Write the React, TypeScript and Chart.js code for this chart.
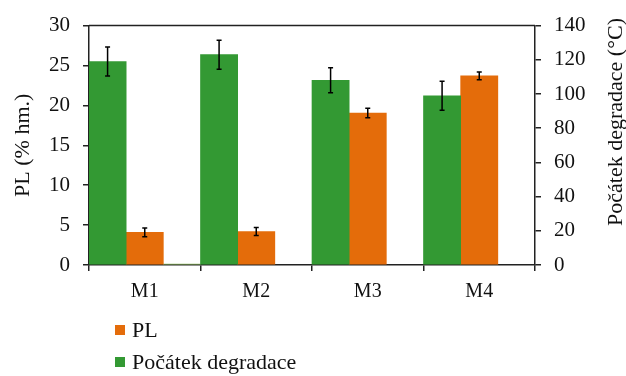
import React, { useEffect, useRef } from "react";
import { Chart, registerables } from "chart.js";

Chart.register(...registerables);

const categories = ["M1", "M2", "M3", "M4"];
const degradace = [119, 123, 108, 99]; // °C, right axis
const degradaceErr = [8.5, 8.5, 7.3, 8.5];
const pl = [4.1, 4.2, 19.05, 23.7]; // % hm., left axis
const plErr = [0.55, 0.5, 0.6, 0.5];
const filler = [0.12, null, null, null];

const GREEN = "#339933";
const ORANGE = "#E46C0A";
const FONT = "'Liberation Serif', 'Times New Roman', serif";

const errorBarPlugin = {
  id: "errorBars",
  afterDatasetsDraw(chart: any) {
    const ctx = chart.ctx;
    chart.data.datasets.forEach((ds: any, di: number) => {
      if (!ds.errors) return;
      const meta = chart.getDatasetMeta(di);
      const scale = chart.scales[ds.yAxisID];
      meta.data.forEach((bar: any, i: number) => {
        const v = ds.data[i];
        const e = ds.errors[i];
        if (v == null || e == null) return;
        const x = bar.x;
        const yHi = scale.getPixelForValue(v + e);
        const yLo = scale.getPixelForValue(v - e);
        ctx.save();
        ctx.strokeStyle = "#000";
        ctx.lineWidth = 1.5;
        ctx.beginPath();
        ctx.moveTo(x, yHi);
        ctx.lineTo(x, yLo);
        ctx.moveTo(x - 2.5, yHi);
        ctx.lineTo(x + 2.5, yHi);
        ctx.moveTo(x - 2.5, yLo);
        ctx.lineTo(x + 2.5, yLo);
        ctx.stroke();
        ctx.restore();
      });
    });
  },
};

const framePlugin = {
  id: "frame",
  afterDraw(chart: any) {
    const { ctx, chartArea } = chart;
    ctx.save();
    ctx.strokeStyle = "#222";
    ctx.lineWidth = 1.5;
    ctx.beginPath();
    ctx.moveTo(chartArea.left, chartArea.top);
    ctx.lineTo(chartArea.right, chartArea.top);
    ctx.stroke();
    // right axis title, reading bottom-to-top
    ctx.translate(616, 122);
    ctx.rotate(-Math.PI / 2);
    ctx.fillStyle = "#111";
    ctx.font = `22px ${FONT}`;
    ctx.textAlign = "center";
    ctx.textBaseline = "middle";
    ctx.fillText("Počátek degradace (°C)", 0, 0);
    ctx.restore();
  },
};

export default function App() {
  const ref = useRef<HTMLCanvasElement>(null);

  useEffect(() => {
    if (!ref.current) return;
    const chart = new Chart(ref.current, {
      type: "bar",
      data: {
        labels: categories,
        datasets: [
          {
            label: "Počátek degradace",
            data: degradace,
            errors: degradaceErr,
            yAxisID: "y1",
            backgroundColor: GREEN,
            categoryPercentage: 1,
            barPercentage: 1,
          } as any,
          {
            label: "PL",
            data: pl,
            errors: plErr,
            yAxisID: "y",
            backgroundColor: ORANGE,
            categoryPercentage: 1,
            barPercentage: 1,
          } as any,
          {
            label: "",
            data: filler,
            yAxisID: "y",
            backgroundColor: "#8fbf5f",
            categoryPercentage: 1,
            barPercentage: 1,
          } as any,
        ],
      },
      options: {
        responsive: false,
        animation: false,
        devicePixelRatio: 1,
        layout: { padding: { top: 20, left: 0, right: 0, bottom: 0 } },
        plugins: {
          legend: { display: false },
          tooltip: { enabled: false },
        },
        scales: {
          x: {
            afterFit: (s: any) => {
              s.height = 111;
            },
            grid: {
              offset: true,
              drawOnChartArea: false,
              drawTicks: true,
              tickLength: 6,
              color: "#222",
              lineWidth: 1.5,
            },
            border: { display: true, color: "#222", width: 1.5 },
            ticks: {
              color: "#111",
              font: { family: FONT, size: 20 },
              padding: 9,
            },
          },
          y: {
            position: "left",
            min: 0,
            max: 30,
            afterFit: (s: any) => {
              s.width = 89;
            },
            ticks: {
              stepSize: 5,
              color: "#111",
              font: { family: FONT, size: 21 },
              padding: 13,
            },
            grid: {
              drawOnChartArea: false,
              drawTicks: true,
              tickLength: 6,
              color: "#222",
              lineWidth: 1.5,
            },
            border: { display: true, color: "#222", width: 1.5 },
            title: {
              display: true,
              text: "PL (% hm.)",
              color: "#111",
              font: { family: FONT, size: 22 },
              padding: { top: 10, bottom: 0 },
            },
          },
          y1: {
            position: "right",
            min: 0,
            max: 140,
            afterFit: (s: any) => {
              s.width = 91;
            },
            ticks: {
              stepSize: 20,
              color: "#111",
              font: { family: FONT, size: 21 },
              padding: 13,
            },
            grid: {
              drawOnChartArea: false,
              drawTicks: true,
              tickLength: 6,
              color: "#222",
              lineWidth: 1.5,
            },
            border: { display: true, color: "#222", width: 1.5 },
          },
        },
      },
      plugins: [errorBarPlugin, framePlugin],
    });
    return () => chart.destroy();
  }, []);

  const legendItem = (color: string, text: string, top: number) => (
    <div
      style={{
        position: "absolute",
        left: 115,
        top,
        display: "flex",
        alignItems: "center",
        fontFamily: FONT,
        fontSize: 22,
        color: "#111",
        lineHeight: "24px",
        whiteSpace: "nowrap",
      }}
    >
      <span
        style={{
          display: "inline-block",
          width: 10,
          height: 10,
          background: color,
          marginRight: 7,
        }}
      />
      <span>{text}</span>
    </div>
  );

  return (
    <div
      style={{
        position: "fixed",
        left: 0,
        top: 0,
        width: 626,
        height: 376,
        background: "#fff",
      }}
    >
      <canvas ref={ref} width={626} height={376} style={{ display: "block" }} />
      {legendItem(ORANGE, "PL", 318)}
      {legendItem(GREEN, "Počátek degradace", 350)}
    </div>
  );
}
